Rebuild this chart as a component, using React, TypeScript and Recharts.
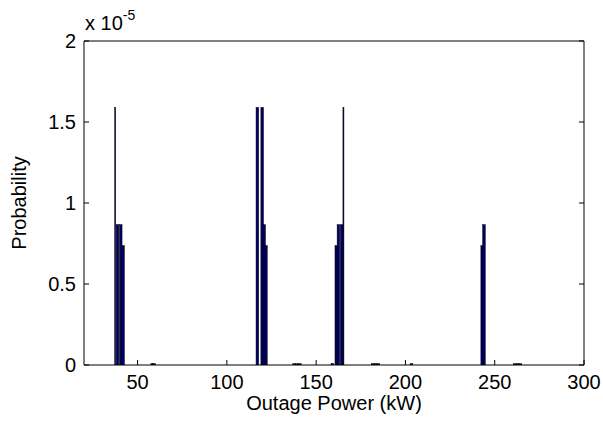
import React from 'react';
import { BarChart, Bar, XAxis, YAxis, Label } from 'recharts';

// outage power (kW) where a single thin spike is drawn
const spikeKw = [37.6, 165.4];
const spikeProb = [1.59e-5, 1.59e-5];

// outage power (kW) and probability for the regular bars
const barKw = [
  38.9, 40.7, 42.0, 58.3, 59.3,
  117.2, 119.9, 121.0, 122.0,
  137.8, 139.4, 141.0, 159.2,
  161.4, 162.6, 164.4,
  181.8, 183.4, 185.0, 203.5,
  243.1, 244.1,
  261.5, 263.0, 264.5,
];
const barProb = [
  0.866e-5, 0.866e-5, 0.737e-5, 0.008e-5, 0.008e-5,
  1.59e-5, 1.59e-5, 0.866e-5, 0.737e-5,
  0.008e-5, 0.008e-5, 0.008e-5, 0.01e-5,
  0.737e-5, 0.866e-5, 0.866e-5,
  0.008e-5, 0.008e-5, 0.008e-5, 0.008e-5,
  0.737e-5, 0.866e-5,
  0.008e-5, 0.008e-5, 0.008e-5,
];

const xTicks = [50, 100, 150, 200, 250, 300];
const yTicks = [0, 0.5e-5, 1e-5, 1.5e-5, 2e-5];

const rows = [
  ...barKw.map((kw, i) => ({ kw, prob: barProb[i], spike: 0 })),
  ...spikeKw.map((kw, i) => ({ kw, prob: 0, spike: spikeProb[i] })),
].sort((a, b) => a.kw - b.kw);

const BAR_FILL = '#00006a';

// bars are drawn centred on their kW value with a fixed width
const barShape = (w: number) => (p: any) => {
  const { x, y, width, height } = p;
  if (!height || height <= 0) return <g />;
  const cx = x + width / 2;
  return (
    <rect x={cx - w / 2} y={y} width={w} height={height}
      fill={BAR_FILL} stroke="#000" strokeWidth={0.5} />
  );
};

const fmtY = (v: number) => String(Math.round(v * 1e6) / 10);
const noLabel = () => '';

export default function App() {
  return (
    <div style={{ position: 'absolute', left: 0, top: 0, fontFamily: '"Liberation Sans", Arial, sans-serif' }}>
      <BarChart width={603} height={426} data={rows}
        margin={{ top: 40, right: 18, bottom: 0, left: 0 }}>
        <XAxis xAxisId="b" dataKey="kw" type="number" domain={[20, 300]} ticks={xTicks}
          allowDataOverflow height={61} stroke="#000" tickSize={-5} tickMargin={15}
          tick={{ fill: '#000', fontSize: 20 }}>
          <Label content={(p: any) => (
            <text x={p.viewBox.x + p.viewBox.width / 2} y={p.viewBox.y + 45}
              textAnchor="middle" fontSize={20} fill="#000">Outage Power (kW)</text>
          )} />
        </XAxis>
        <XAxis xAxisId="t" orientation="top" type="number" domain={[20, 300]} ticks={xTicks}
          allowDataOverflow height={1} stroke="#000" tickSize={-5} tickFormatter={noLabel}>
          <Label content={(p: any) => (
            <text x={p.viewBox.x + 1} y={p.viewBox.y - 10} fontSize={20} fill="#000">
              x 10<tspan dy={-10} fontSize={14}>-5</tspan>
            </text>
          )} />
        </XAxis>
        <YAxis yAxisId="l" type="number" domain={[0, 2e-5]} ticks={yTicks} allowDataOverflow
          width={84} stroke="#000" tickSize={-5} tickMargin={13} tickFormatter={fmtY}
          tick={{ fill: '#000', fontSize: 20 }}>
          <Label content={(p: any) => {
            const cx = p.viewBox.x + 19;
            const cy = p.viewBox.y + p.viewBox.height / 2;
            return (
              <text x={cx} y={cy} transform={`rotate(-90 ${cx} ${cy})`} textAnchor="middle"
                dominantBaseline="central" fontSize={20} fill="#000">Probability</text>
            );
          }} />
        </YAxis>
        <YAxis yAxisId="r" orientation="right" type="number" domain={[0, 2e-5]} ticks={yTicks}
          allowDataOverflow width={1} stroke="#000" tickSize={-5} tickFormatter={noLabel} />
        <Bar xAxisId="b" yAxisId="l" dataKey="prob" stackId="p" isAnimationActive={false}
          shape={barShape(2.6)} />
        <Bar xAxisId="b" yAxisId="l" dataKey="spike" stackId="p" isAnimationActive={false}
          shape={barShape(1)} />
      </BarChart>
    </div>
  );
}
